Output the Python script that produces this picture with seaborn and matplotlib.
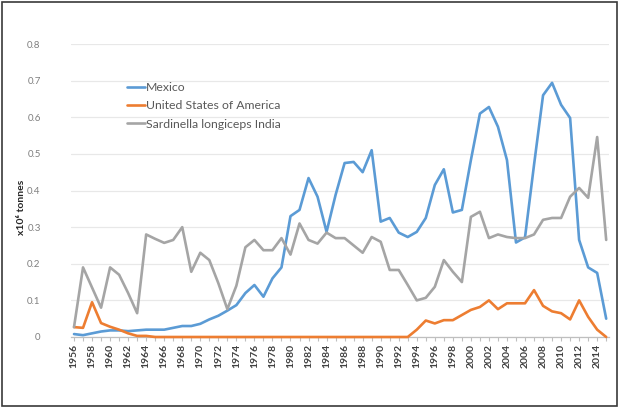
import matplotlib
matplotlib.use("Agg")
import matplotlib.pyplot as plt
import seaborn as sns
import pandas as pd
from matplotlib.ticker import FuncFormatter, MultipleLocator
from matplotlib.lines import Line2D
from matplotlib.patches import Rectangle

years = list(range(1956, 2016))

mexico = [0.008, 0.005, 0.010, 0.015, 0.018, 0.018, 0.016, 0.018, 0.020, 0.020,
          0.020, 0.025, 0.030, 0.030, 0.036, 0.048, 0.058, 0.072, 0.087, 0.120,
          0.142, 0.110, 0.160, 0.190, 0.330, 0.347, 0.434, 0.383, 0.287, 0.388,
          0.475, 0.478, 0.450, 0.510, 0.315, 0.325, 0.285, 0.273, 0.287, 0.325,
          0.415, 0.458, 0.340, 0.347, 0.483, 0.610, 0.628, 0.574, 0.483, 0.258,
          0.272, 0.470, 0.660, 0.694, 0.634, 0.598, 0.265, 0.190, 0.175, 0.050]

usa = [0.027, 0.025, 0.095, 0.038, 0.028, 0.020, 0.010, 0.003, 0.003, 0.0,
       0.0, 0.0, 0.0, 0.0, 0.0, 0.0, 0.0, 0.0, 0.0, 0.0,
       0.0, 0.0, 0.0, 0.0, 0.0, 0.0, 0.0, 0.0, 0.0, 0.0,
       0.0, 0.0, 0.0, 0.0, 0.0, 0.0, 0.0, 0.0, 0.020, 0.045,
       0.037, 0.046, 0.046, 0.060, 0.074, 0.082, 0.100, 0.076, 0.092, 0.092,
       0.092, 0.128, 0.085, 0.070, 0.065, 0.048, 0.100, 0.055, 0.020, 0.0]

sardinella = [0.027, 0.190, 0.135, 0.080, 0.190, 0.170, 0.120, 0.065, 0.280, 0.268,
              0.257, 0.265, 0.300, 0.178, 0.230, 0.210, 0.147, 0.076, 0.140, 0.245,
              0.265, 0.237, 0.237, 0.270, 0.225, 0.310, 0.265, 0.255, 0.285, 0.270,
              0.270, 0.250, 0.230, 0.273, 0.260, 0.183, 0.183, 0.142, 0.100, 0.107,
              0.137, 0.210, 0.178, 0.150, 0.328, 0.342, 0.270, 0.280, 0.273, 0.270,
              0.270, 0.280, 0.320, 0.325, 0.325, 0.383, 0.407, 0.380, 0.546, 0.265]

series_names = ["Mexico", "United States of America", "Sardinella longiceps India"]
colors = ["#5B9BD5", "#ED7D31", "#A5A5A5"]
yticks = [0, 0.1, 0.2, 0.3, 0.4, 0.5, 0.6, 0.7, 0.8]
ylabel = "x10\u2076 tonnes"

df = pd.DataFrame({
    "year": years * 3,
    "value": mexico + usa + sardinella,
    "series": [series_names[0]] * len(years) + [series_names[1]] * len(years) + [series_names[2]] * len(years),
})

sns.set_style("white")
plt.rcParams["font.family"] = ["Lato", "DejaVu Sans"]

W, H = 619, 408
fig = plt.figure(figsize=(W / 100, H / 100), dpi=100)
ax = fig.add_axes([71.3 / W, 1 - 337 / H, 537.6 / W, 293 / H])

sns.lineplot(data=df, x="year", y="value", hue="series", hue_order=series_names,
             palette=colors, linewidth=1.9, ax=ax, legend=False, zorder=3)
for ln in ax.get_lines():
    ln.set_clip_on(False)

ax.set_xlim(1955.7, 2015.3)
ax.set_ylim(0, 0.8)
ax.set_yticks(yticks)
ax.yaxis.set_major_formatter(FuncFormatter(lambda v, p: "0" if abs(v) < 1e-9 else f"{v:.1f}"))
ax.xaxis.set_minor_locator(MultipleLocator(1))
ax.set_xticks(list(range(1956, 2015, 2)))
ax.set_xticklabels([str(y) for y in range(1956, 2015, 2)], rotation=90,
                   fontsize=7.5, fontweight="bold", color="#404040")
ax.tick_params(axis="x", which="both", direction="out", length=3, width=0.8,
               color="#BFBFBF", pad=2, bottom=True)
ax.tick_params(axis="y", length=0, pad=22, labelsize=7, labelcolor="#7F7F7F")
ax.set_xlabel("")
ax.set_ylabel("")

ax.grid(axis="y", color="#E8E8E8", linewidth=0.9, zorder=0)
ax.grid(axis="x", visible=False)
for s in ["top", "right", "left"]:
    ax.spines[s].set_visible(False)
ax.spines["bottom"].set_color("#BFBFBF")
ax.spines["bottom"].set_linewidth(0.9)

fig.text(21 / W, 1 - 207 / H, ylabel, rotation=90, ha="center", va="center",
         fontsize=7.5, fontweight="bold", color="#262626")

handles = [Line2D([0], [0], color=c, linewidth=1.9) for c in colors]
leg = ax.legend(handles, series_names, loc="upper left",
                bbox_to_anchor=(127 / W, 1 - 82 / H), bbox_transform=fig.transFigure,
                frameon=False, fontsize=8.8, handlelength=1.45, handletextpad=0.12,
                labelspacing=0.6, borderpad=0, borderaxespad=0)
for t in leg.get_texts():
    t.set_color("#595959")

fig.patches.append(Rectangle((0.003, 0.004), 0.993, 0.992, transform=fig.transFigure,
                             fill=False, edgecolor="#3A3A3A", linewidth=1.2))

fig.savefig("out.png", dpi=100)
